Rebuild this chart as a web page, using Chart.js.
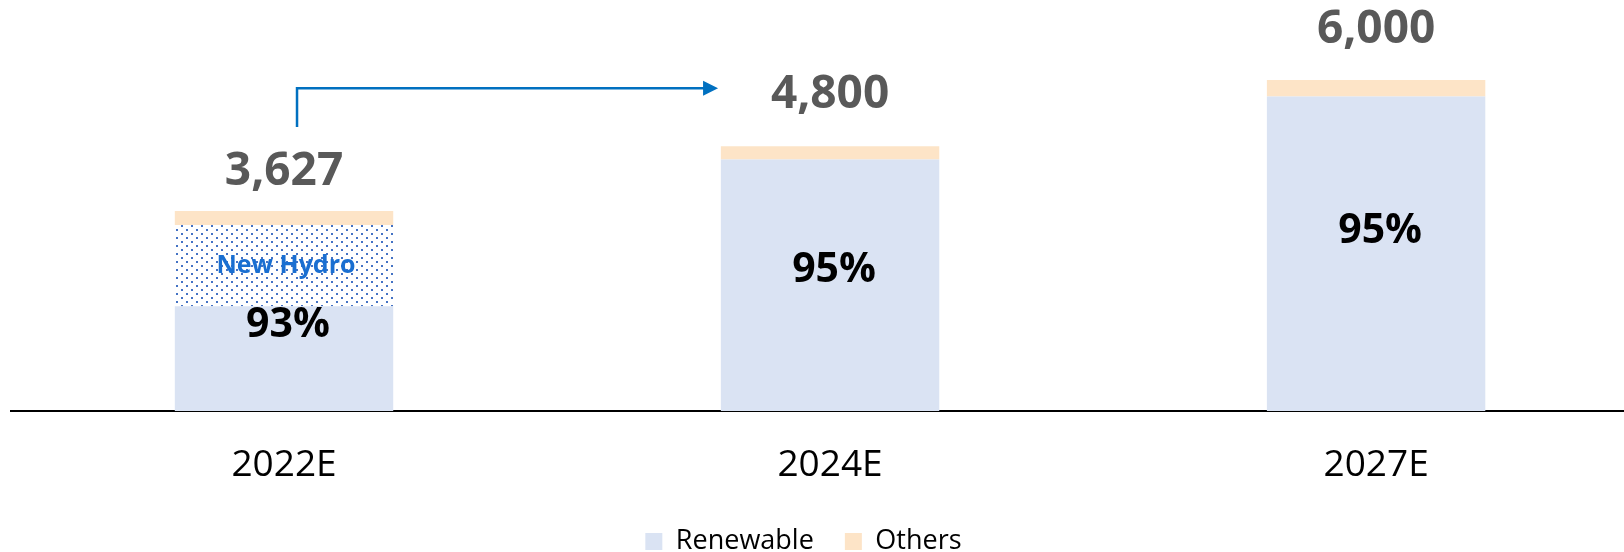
<!DOCTYPE html>
<html>
<head>
<meta charset="utf-8">
<script src="https://cdn.jsdelivr.net/npm/chart.js@4.4.1/dist/chart.umd.min.js"></script>
<style>
  html, body { margin: 0; padding: 0; background: #fff; overflow: hidden; }
  #wrap { width: 1624px; height: 552px; }
</style>
</head>
<body>
<div id="wrap"><canvas id="chart" width="1624" height="552"></canvas></div>
<script>
// values (MW)
const years = ['2022E', '2024E', '2027E'];
const renewable = [1900, 4560, 5700];
const newHydro = [1473, 0, 0];
const others = [254, 240, 300];
const renewableShare = ['93%', '95%', '95%'];

// label placement: gap above bar top (px), and where the share sits in the renewable stack
const totalLabelGap = [39, 51, 50];
const shareLabelAt = [0.46, 0.56, 0.57];

Chart.defaults.font.family = '"Open Sans", sans-serif';

// white with staggered blue dots, like the "New Hydro" fill
const dotPattern = () => {
    const c = document.createElement('canvas');
    c.width = 10;
    c.height = 8;
    const g = c.getContext('2d');
    g.fillStyle = '#ffffff';
    g.fillRect(0, 0, 10, 8);
    g.fillStyle = '#4472c4';
    g.fillRect(1, 1, 2, 2);
    g.fillRect(6, 5, 2, 2);
    return g.createPattern(c, 'repeat');
};

const barLabels = {
    id: 'barLabels',
    afterDatasetsDraw(chart) {
        const { ctx } = chart;
        const x = chart.scales.x;
        const y = chart.scales.y;
        ctx.save();
        ctx.textAlign = 'center';
        ctx.textBaseline = 'middle';
        years.forEach((yr, i) => {
            const cx = x.getPixelForValue(i);
            const total = renewable[i] + newHydro[i] + others[i];
            ctx.fillStyle = '#595959';
            ctx.font = 'bold 46px "Open Sans"';
            ctx.fillText(total.toLocaleString('en-US'), cx, y.getPixelForValue(total) - totalLabelGap[i]);

            const green = renewable[i] + newHydro[i];
            ctx.fillStyle = '#000000';
            ctx.font = 'bold 41px "Open Sans"';
            ctx.fillText(renewableShare[i], cx + 4, y.getPixelForValue(green * shareLabelAt[i]));

            if (newHydro[i] > 0) {
                ctx.fillStyle = '#1a6fd1';
                ctx.font = 'bold 25px "Open Sans"';
                ctx.fillText('New Hydro', cx + 2, y.getPixelForValue(renewable[i] + newHydro[i] / 2));
            }
        });

        // growth arrow from 2022E towards 2024E
        const x0 = x.getPixelForValue(0) + 13;
        const xTip = x.getPixelForValue(1) - 112;
        const yLow = y.getPixelForValue(5150);
        const yHigh = y.getPixelForValue(5850);
        ctx.strokeStyle = '#0070c0';
        ctx.fillStyle = '#0070c0';
        ctx.lineWidth = 2.5;
        ctx.beginPath();
        ctx.moveTo(x0, yLow);
        ctx.lineTo(x0, yHigh);
        ctx.lineTo(xTip - 14, yHigh);
        ctx.stroke();
        ctx.beginPath();
        ctx.moveTo(xTip - 15, yHigh - 7.5);
        ctx.lineTo(xTip, yHigh);
        ctx.lineTo(xTip - 15, yHigh + 7.5);
        ctx.closePath();
        ctx.fill();
        ctx.restore();
    }
};

new Chart(document.getElementById('chart'), {
    type: 'bar',
    data: {
        labels: years,
        datasets: [
            { label: 'Renewable', data: renewable, backgroundColor: '#dae3f3', stack: 's' },
            { label: 'New Hydro', data: newHydro, backgroundColor: dotPattern(), stack: 's' },
            { label: 'Others', data: others, backgroundColor: '#fde4c7', stack: 's' }
        ]
    },
    options: {
        responsive: false,
        animation: false,
        events: [],
        barPercentage: 0.4,
        categoryPercentage: 1.0,
        layout: { padding: { left: 11, right: 0, top: 0, bottom: -13 } },
        scales: {
            x: {
                stacked: true,
                grid: { display: false },
                border: { display: true, color: '#000000', width: 2 },
                ticks: { color: '#000000', font: { size: 37 }, padding: 24 },
                // spread the three slots a bit wider than the plot, as in the source
                afterBuildTicks: (scale) => {
                    scale._startValue = -0.5;
                    scale._valueRange = 2.954;
                },
                afterFit: (scale) => {
                    scale.height = 114;
                }
            },
            y: { stacked: true, display: false, min: 0, max: 7450 }
        },
        plugins: {
            tooltip: { enabled: false },
            legend: {
                position: 'bottom',
                labels: {
                    boxWidth: 17,
                    boxHeight: 17,
                    padding: 3,
                    color: '#000000',
                    font: { size: 27 },
                    generateLabels: (chart) =>
                        Chart.defaults.plugins.legend.labels.generateLabels(chart)
                            .filter(l => l.text !== 'New Hydro')
                            .map(l => ({
                                ...l,
                                lineWidth: 0,
                                text: l.text === 'Renewable' ? 'Renewable    ' : l.text + '    '
                            }))
                }
            }
        }
    },
    plugins: [barLabels]
});
</script>
</body>
</html>
